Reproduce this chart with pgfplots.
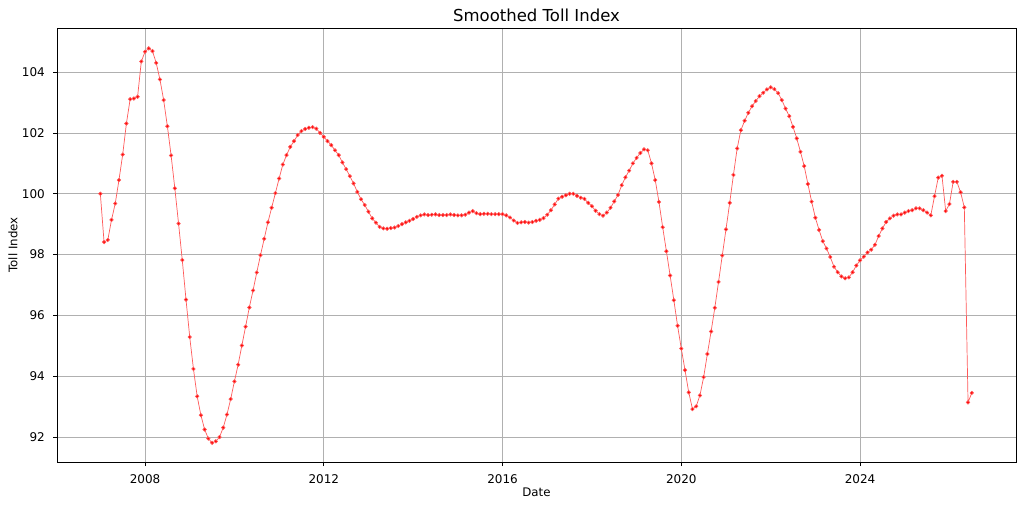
\documentclass[border=0pt]{standalone}
\usepackage{fontspec}
\setmainfont{DejaVu Sans}
\usepackage{pgfplots}
\usepackage{pgfplotstable}
\pgfplotsset{compat=1.18}
\pgfplotstableread{
t v
2007.0000 100.00
2007.0833 98.41
2007.1667 98.48
2007.2500 99.14
2007.3333 99.68
2007.4167 100.45
2007.5000 101.29
2007.5833 102.31
2007.6667 103.11
2007.7500 103.13
2007.8333 103.19
2007.9167 104.35
2008.0000 104.67
2008.0833 104.78
2008.1667 104.69
2008.2500 104.30
2008.3333 103.76
2008.4167 103.08
2008.5000 102.22
2008.5833 101.26
2008.6667 100.18
2008.7500 99.02
2008.8333 97.82
2008.9167 96.52
2009.0000 95.29
2009.0833 94.24
2009.1667 93.34
2009.2500 92.72
2009.3333 92.25
2009.4167 91.95
2009.5000 91.81
2009.5833 91.86
2009.6667 92.00
2009.7500 92.31
2009.8333 92.74
2009.9167 93.25
2010.0000 93.83
2010.0833 94.38
2010.1667 95.01
2010.2500 95.63
2010.3333 96.26
2010.4167 96.82
2010.5000 97.41
2010.5833 97.98
2010.6667 98.52
2010.7500 99.06
2010.8333 99.54
2010.9167 100.02
2011.0000 100.50
2011.0833 100.96
2011.1667 101.27
2011.2500 101.54
2011.3333 101.73
2011.4167 101.93
2011.5000 102.06
2011.5833 102.13
2011.6667 102.17
2011.7500 102.19
2011.8333 102.14
2011.9167 102.00
2012.0000 101.87
2012.0833 101.73
2012.1667 101.60
2012.2500 101.43
2012.3333 101.27
2012.4167 101.03
2012.5000 100.81
2012.5833 100.58
2012.6667 100.34
2012.7500 100.06
2012.8333 99.82
2012.9167 99.63
2013.0000 99.41
2013.0833 99.19
2013.1667 99.05
2013.2500 98.91
2013.3333 98.86
2013.4167 98.85
2013.5000 98.87
2013.5833 98.89
2013.6667 98.94
2013.7500 99.00
2013.8333 99.06
2013.9167 99.11
2014.0000 99.17
2014.0833 99.24
2014.1667 99.29
2014.2500 99.32
2014.3333 99.30
2014.4167 99.31
2014.5000 99.32
2014.5833 99.30
2014.6667 99.30
2014.7500 99.30
2014.8333 99.32
2014.9167 99.30
2015.0000 99.29
2015.0833 99.29
2015.1667 99.31
2015.2500 99.38
2015.3333 99.43
2015.4167 99.36
2015.5000 99.33
2015.5833 99.34
2015.6667 99.34
2015.7500 99.33
2015.8333 99.33
2015.9167 99.33
2016.0000 99.33
2016.0833 99.29
2016.1667 99.22
2016.2500 99.12
2016.3333 99.04
2016.4167 99.06
2016.5000 99.07
2016.5833 99.05
2016.6667 99.07
2016.7500 99.11
2016.8333 99.14
2016.9167 99.20
2017.0000 99.31
2017.0833 99.46
2017.1667 99.65
2017.2500 99.84
2017.3333 99.90
2017.4167 99.95
2017.5000 100.00
2017.5833 100.00
2017.6667 99.93
2017.7500 99.87
2017.8333 99.83
2017.9167 99.70
2018.0000 99.59
2018.0833 99.44
2018.1667 99.33
2018.2500 99.28
2018.3333 99.38
2018.4167 99.54
2018.5000 99.75
2018.5833 99.96
2018.6667 100.28
2018.7500 100.54
2018.8333 100.76
2018.9167 101.00
2019.0000 101.18
2019.0833 101.34
2019.1667 101.46
2019.2500 101.43
2019.3333 101.00
2019.4167 100.45
2019.5000 99.73
2019.5833 98.90
2019.6667 98.11
2019.7500 97.31
2019.8333 96.50
2019.9167 95.66
2020.0000 94.91
2020.0833 94.20
2020.1667 93.47
2020.2500 92.92
2020.3333 93.01
2020.4167 93.37
2020.5000 93.97
2020.5833 94.73
2020.6667 95.47
2020.7500 96.25
2020.8333 97.10
2020.9167 97.97
2021.0000 98.83
2021.0833 99.70
2021.1667 100.62
2021.2500 101.49
2021.3333 102.09
2021.4167 102.40
2021.5000 102.66
2021.5833 102.88
2021.6667 103.05
2021.7500 103.21
2021.8333 103.32
2021.9167 103.43
2022.0000 103.50
2022.0833 103.44
2022.1667 103.31
2022.2500 103.08
2022.3333 102.80
2022.4167 102.55
2022.5000 102.20
2022.5833 101.82
2022.6667 101.38
2022.7500 100.91
2022.8333 100.32
2022.9167 99.74
2023.0000 99.21
2023.0833 98.81
2023.1667 98.44
2023.2500 98.20
2023.3333 97.92
2023.4167 97.60
2023.5000 97.42
2023.5833 97.28
2023.6667 97.22
2023.7500 97.25
2023.8333 97.42
2023.9167 97.64
2024.0000 97.81
2024.0833 97.93
2024.1667 98.07
2024.2500 98.16
2024.3333 98.32
2024.4167 98.61
2024.5000 98.86
2024.5833 99.07
2024.6667 99.19
2024.7500 99.28
2024.8333 99.32
2024.9167 99.32
2025.0000 99.38
2025.0833 99.43
2025.1667 99.46
2025.2500 99.52
2025.3333 99.52
2025.4167 99.46
2025.5000 99.38
2025.5833 99.29
2025.6667 99.92
2025.7500 100.53
2025.8333 100.59
2025.9167 99.43
2026.0000 99.66
2026.0833 100.39
2026.1667 100.39
2026.2500 100.05
2026.3333 99.55
2026.4167 93.14
2026.5000 93.45
}\tolldata
\begin{document}
\begin{tikzpicture}
\begin{axis}[
  at={(0pt,0pt)}, anchor=south west,
  scale only axis, width=959pt, height=434pt,
  xmin=2006.03, xmax=2027.49, ymin=91.18, ymax=105.45,
  xtick={2008,2012,2016,2020,2024},
  ytick={92,94,96,98,100,102,104},
  tick pos=left, tick align=outside, major tick length=4pt,
  tick style={black, line width=0.8pt},
  axis line style={black, line width=0.8pt},
  grid=major,
  major grid style={color={rgb,255:red,176;green,176;blue,176}, line width=0.8pt},
  /pgf/number format/assume math mode=true,
  /pgf/number format/1000 sep={},
  tick label style={font=\fontsize{12pt}{14pt}\selectfont},
  xticklabel style={anchor=base, yshift=-17.5pt},
  yticklabel style={anchor=east, inner sep=0pt, xshift=-8pt},
  every axis title shift=0pt,
  title={Smoothed Toll Index},
  title style={font=\fontsize{16.5pt}{19pt}\selectfont, at={(axis description cs:0.5,1.0145)}, anchor=base},
  xlabel={Date},
  xlabel style={font=\fontsize{11.8pt}{14pt}\selectfont, at={(axis description cs:0.5,-0.0806)}, anchor=base},
  ylabel={Toll Index},
  ylabel style={font=\fontsize{11.8pt}{14pt}\selectfont, at={(axis description cs:-0.0414,0.5)}, anchor=base, rotate=0},
]
\addplot[color=red!65, line width=0.7pt, mark=*, mark size=1.7pt, mark options={draw=none, fill=red}] table[x=t, y=v] {\tolldata};
\end{axis}
\pgfresetboundingbox
\path (-57pt,-46pt) rectangle (967pt,462pt);
\end{tikzpicture}
\end{document}
